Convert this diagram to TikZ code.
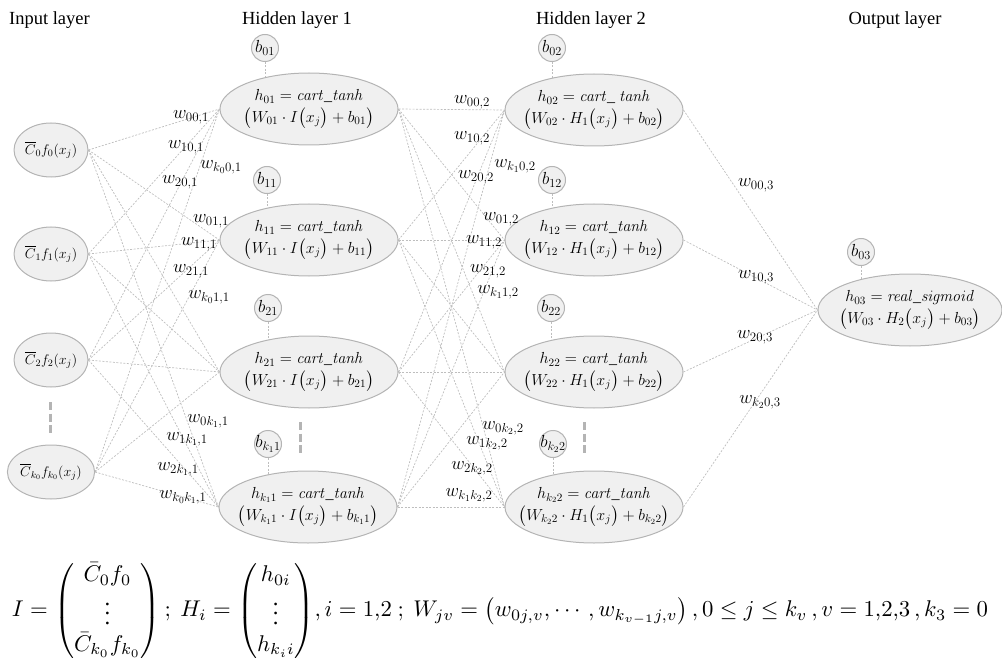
\RequirePackage{fix-cm}
\documentclass[tikz,border=0pt]{standalone}
\usepackage{amsmath}
\usepackage{graphicx}
\usepackage[no-math]{fontspec}
\setmainfont{Liberation Serif}
\usetikzlibrary{shapes.geometric,backgrounds}
\definecolor{nfill}{HTML}{F0F0F0}
\definecolor{nline}{HTML}{B4B4B4}
\definecolor{cline}{HTML}{BEBEBE}
\tikzset{
  hid/.style={ellipse, draw=nline, fill=nfill, line width=1pt, minimum width=178pt, minimum height=72pt, inner sep=0pt},
  outn/.style={ellipse, draw=nline, fill=nfill, line width=1pt, minimum width=184pt, minimum height=72pt, inner sep=0pt},
  htext/.style={align=center, inner sep=0pt, font=\fontsize{16}{21.5}\selectfont},
  inp/.style={ellipse, draw=nline, fill=nfill, line width=1pt, minimum width=72pt, minimum height=54pt, inner sep=0pt, font=\fontsize{14}{16}\selectfont},
  bias/.style={circle, draw=nline, fill=nfill, line width=1pt, minimum size=27pt, inner sep=-2pt, font=\fontsize{17.5}{19}\selectfont},
  conn/.style={draw=cline, dash pattern=on 2pt off 1.5pt, line width=0.7pt},
  wl/.style={inner sep=0pt, font=\fontsize{18.5}{20}\selectfont},
  title/.style={anchor=base, inner sep=0pt, font=\fontsize{18.5}{20}\selectfont},
  gap/.style={draw=nline, line width=3pt, dash pattern=on 8pt off 3.5pt}
}
\newcommand{\usc}{\text{\_}}
\begin{document}
\begin{tikzpicture}[x=1pt,y=-1pt]
\useasboundingbox (0,0) rectangle (1002,666);
% titles
\node[title] (t0) at (49.5,25) {Input layer};
\node[title] (t1) at (297,25) {Hidden layer 1};
\node[title] (t2) at (591,25) {Hidden layer 2};
\node[title] (t3) at (895,25) {Output layer};
% input nodes
\node[inp] (c0) at (51,150) {$\overline{C}_0 f_0(x_j)$};
\node[inp] (c1) at (51,254) {$\overline{C}_1 f_1(x_j)$};
\node[inp] (c2) at (51,360) {$\overline{C}_2 f_2(x_j)$};
\node[inp] (c3) at (51,472) {$\overline{C}_{k_0} f_{k_0}(x_j)$};
% hidden layer 1
\node[hid] (a0) at (309,109) {};
\node[htext] (a0t) at (a0) {$h_{01}=\mathit{cart}\usc\mathit{tanh}$\\$\bigl(W_{01}\cdot I\bigl(x_j\bigr)+b_{01}\bigr)$};
\node[hid] (a1) at (309,240) {};
\node[htext] (a1t) at (a1) {$h_{11}=\mathit{cart}\usc\mathit{tanh}$\\$\bigl(W_{11}\cdot I\bigl(x_j\bigr)+b_{11}\bigr)$};
\node[hid] (a2) at (309,372) {};
\node[htext] (a2t) at (a2) {$h_{21}=\mathit{cart}\usc\mathit{tanh}$\\$\bigl(W_{21}\cdot I\bigl(x_j\bigr)+b_{21}\bigr)$};
\node[hid] (a3) at (308,507) {};
\node[htext] (a3t) at (a3) {$h_{k_1 1}=\mathit{cart}\usc\mathit{tanh}$\\$\bigl(W_{k_1 1}\cdot I\bigl(x_j\bigr)+b_{k_1 1}\bigr)$};
% hidden layer 2
\node[hid] (b0) at (594,110) {};
\node[htext] (b0t) at (b0) {$h_{02}=\mathit{cart}\usc\ \mathit{tanh}$\\$\bigl(W_{02}\cdot H_1\bigl(x_j\bigr)+b_{02}\bigr)$};
\node[hid] (b1) at (594,240) {};
\node[htext] (b1t) at (b1) {$h_{12}=\mathit{cart}\usc\mathit{tanh}$\\$\bigl(W_{12}\cdot H_1\bigl(x_j\bigr)+b_{12}\bigr)$};
\node[hid] (b2) at (594,372) {};
\node[htext] (b2t) at (b2) {$h_{22}=\mathit{cart}\usc\mathit{tanh}$\\$\bigl(W_{22}\cdot H_1\bigl(x_j\bigr)+b_{22}\bigr)$};
\node[hid] (b3) at (594,507) {};
\node[htext] (b3t) at (b3) {$h_{k_2 2}=\mathit{cart}\usc\mathit{tanh}$\\$\bigl(W_{k_2 2}\cdot H_1\bigl(x_j\bigr)+b_{k_2 2}\bigr)$};
% output
\node[outn] (o) at (910,310) {};
\node[htext] (ot) at (o) {$h_{03}=\mathit{real}\usc\mathit{sigmoid}$\\$\bigl(W_{03}\cdot H_2\bigl(x_j\bigr)+b_{03}\bigr)$};
% biases
\node[bias] (ba0) at (265,48) {$b_{01}$};
\node[bias] (ba1) at (267,180) {$b_{11}$};
\node[bias] (ba2) at (268,308) {$b_{21}$};
\node[bias] (ba3) at (268,444) {$b_{k_1 1}$};
\node[bias] (bb0) at (552,48) {$b_{02}$};
\node[bias] (bb1) at (552,180) {$b_{12}$};
\node[bias] (bb2) at (551,308) {$b_{22}$};
\node[bias] (bb3) at (553,444) {$b_{k_2 2}$};
\node[bias] (bo) at (861,252) {$b_{03}$};
% gaps
\coordinate (g0a) at (50,402); \coordinate (g0b) at (50,433);
\coordinate (g1a) at (300,422); \coordinate (g1b) at (300,453);
\coordinate (g2a) at (584,422); \coordinate (g2b) at (584,453);
\draw[gap] (g0a) -- (g0b);
\draw[gap] (g1a) -- (g1b);
\draw[gap] (g2a) -- (g2b);
% connections
\begin{scope}[on background layer]
\foreach \i in {0,1,2,3}{
  \foreach \j in {0,1,2,3}{
    \draw[conn] (c\i.east) -- (a\j.west);
    \draw[conn] (a\i.east) -- (b\j.west);
  }
  \draw[conn] (b\i.east) -- (o.west);
  \draw[conn] (ba\i.south) -- (ba\i.south |- a\i.center);
  \draw[conn] (bb\i.south) -- (bb\i.south |- b\i.center);
}
\draw[conn] (bo.south) -- (bo.south |- o.center);
\end{scope}
% weight labels layer 1
\node[wl] (w1a) at (191,117) {$w_{00,1}$};
\node[wl] (w1b) at (186,147) {$w_{10,1}$};
\node[wl] (w1c) at (221,167) {$w_{k_0 0,1}$};
\node[wl] (w1d) at (180,182) {$w_{20,1}$};
\node[wl] (w1e) at (211,221) {$w_{01,1}$};
\node[wl] (w1f) at (199,244) {$w_{11,1}$};
\node[wl] (w1g) at (191,271) {$w_{21,1}$};
\node[wl] (w1h) at (209,297) {$w_{k_0 1,1}$};
\node[wl] (w1i) at (208,421) {$w_{0k_1,1}$};
\node[wl] (w1j) at (187,439) {$w_{1k_1,1}$};
\node[wl] (w1k) at (178,469) {$w_{2k_1,1}$};
\node[wl] (w1l) at (183,497) {$w_{k_0k_1,1}$};
% weight labels layer 2
\node[wl] (w2a) at (472,102) {$w_{00,2}$};
\node[wl] (w2b) at (472,138) {$w_{10,2}$};
\node[wl] (w2c) at (515,166) {$w_{k_1 0,2}$};
\node[wl] (w2d) at (476,177) {$w_{20,2}$};
\node[wl] (w2e) at (501,219) {$w_{01,2}$};
\node[wl] (w2f) at (484,242) {$w_{11,2}$};
\node[wl] (w2g) at (488,271) {$w_{21,2}$};
\node[wl] (w2h) at (498,292) {$w_{k_1 1,2}$};
\node[wl] (w2i) at (503,428) {$w_{0k_2,2}$};
\node[wl] (w2j) at (487,443) {$w_{1k_2,2}$};
\node[wl] (w2k) at (472,468) {$w_{2k_2,2}$};
\node[wl] (w2l) at (469,495) {$w_{k_1k_2,2}$};
% weight labels layer 3
\node[wl] (w3a) at (756,185) {$w_{00,3}$};
\node[wl] (w3b) at (756,277) {$w_{10,3}$};
\node[wl] (w3c) at (755,337) {$w_{20,3}$};
\node[wl] (w3d) at (760,402) {$w_{k_2 0,3}$};
% formula
\node[inner sep=0pt] (eq) at (500,611) {\resizebox{976pt}{!}{$\displaystyle I=\begin{pmatrix}\bar C_0 f_0\\ \vdots\\ \bar C_{k_0} f_{k_0}\end{pmatrix};\ H_i=\begin{pmatrix}h_{0i}\\ \vdots\\ h_{k_i i}\end{pmatrix}\!,i=1{,}2\ ;\ W_{jv}=\bigl(w_{0j,v},\cdots,w_{k_{v-1}j,v}\bigr)\,,0\le j\le k_v\,,v=1{,}2{,}3\,,k_3=0$}};
\end{tikzpicture}
\end{document}
